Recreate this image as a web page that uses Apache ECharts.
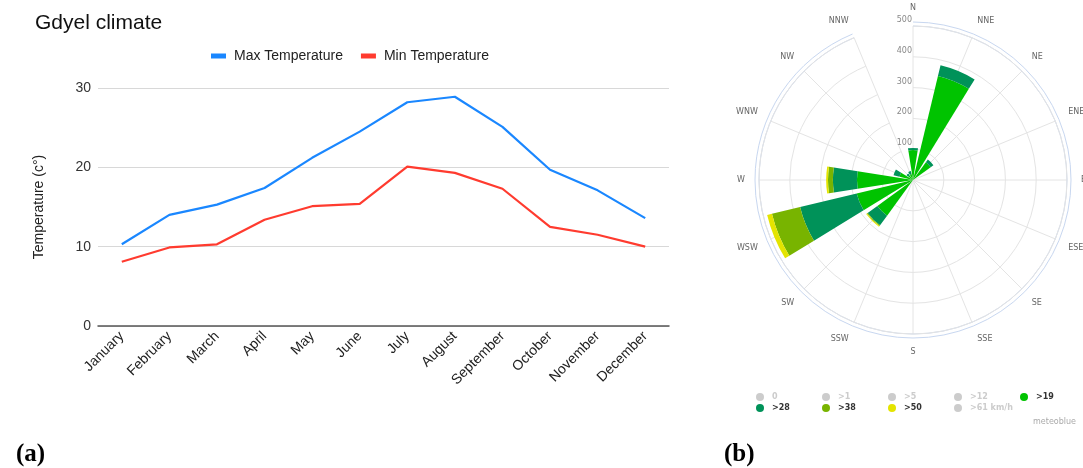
<!DOCTYPE html>
<html>
<head>
<meta charset="utf-8">
<title>Gdyel climate and wind rose</title>
<script src="https://cdn.jsdelivr.net/npm/echarts@6/dist/echarts.min.js"></script>
<style>
  html, body { margin: 0; padding: 0; background: #ffffff; }
  #chart { width: 1083px; height: 468px; }
</style>
</head>
<body>
<div id="chart"></div>
<script>
// Monthly temperatures (°C)
const months = ['January', 'February', 'March', 'April', 'May', 'June',
                'July', 'August', 'September', 'October', 'November', 'December'];
const maxTemp = [10.3, 14.0, 15.3, 17.4, 21.2, 24.5, 28.2, 28.9, 25.1, 19.7, 17.1, 13.6];
const minTemp = [8.1, 9.9, 10.3, 13.4, 15.1, 15.4, 20.1, 19.3, 17.3, 12.5, 11.5, 10.0];
const tempTicks = [0, 10, 20, 30];

// Wind rose: hours per direction, by wind-speed class (km/h)
const directions = ['N', 'NNE', 'NE', 'ENE', 'E', 'ESE', 'SE', 'SSE',
                    'S', 'SSW', 'SW', 'WSW', 'W', 'WNW', 'NW', 'NNW'];
const speedClasses = ['0', '>1', '>5', '>12', '>19', '>28', '>38', '>50', '>61 km/h'];
const speed0  = [];
const speed1  = [];
const speed5  = [];
const speed12 = [];
const speed19 = [97, 347, 71, 0, 0, 0, 0, 0, 0, 0, 143, 188, 182, 45, 18, 20];
const speed28 = [7, 36, 11, 0, 0, 0, 0, 0, 0, 0, 39, 189, 78, 20, 8, 10];
const speed38 = [0, 0, 0, 0, 0, 0, 0, 0, 0, 0, 3, 94, 16, 0, 0, 0];
const speed50 = [0, 0, 0, 0, 0, 0, 0, 0, 0, 0, 3, 16, 6, 0, 0, 0];
const speed61 = [];
const radiusTicks = [0, 100, 200, 300, 400, 500];

const speedData = [speed0, speed1, speed5, speed12, speed19, speed28, speed38, speed50, speed61];
const speedColors = ['#cccccc', '#cccccc', '#cccccc', '#cccccc', '#00c300',
                     '#009259', '#78b400', '#e4e400', '#cccccc'];
const hiddenClasses = { '0': false, '>1': false, '>5': false, '>12': false, '>61 km/h': false };

const sansFont = 'Liberation Sans, Arial, sans-serif';
const smallFont = 'DejaVu Sans, Verdana, sans-serif';

const chart = echarts.init(document.getElementById('chart'), null, { renderer: 'canvas' });

// wind-speed legend laid out as five columns of two rows
const legendColumns = [['0', '>28'], ['>1', '>38'], ['>5', '>50'], ['>12', '>61 km/h'], ['>19']];
const columnLeft = [756, 822, 888, 954, 1020];
const windLegends = legendColumns.map(function (names, i) {
  return {
    data: names,
    orient: 'vertical',
    left: columnLeft[i],
    top: 393,
    padding: 0,
    itemWidth: 8,
    itemHeight: 8,
    itemGap: 3,
    icon: 'circle',
    selected: hiddenClasses,
    selectedMode: false,
    inactiveColor: '#cccccc',
    textStyle: { fontFamily: smallFont, fontSize: 8, fontWeight: 'bold', color: '#333333', padding: [0, 0, 0, 3] }
  };
});

const windSeries = speedClasses.map(function (name, i) {
  return {
    name: name,
    type: 'bar',
    coordinateSystem: 'polar',
    polarIndex: 0,
    stack: 'speed',
    barCategoryGap: '20%',
    itemStyle: { color: speedColors[i] },
    data: speedData[i]
  };
});

const option = {
  animation: false,
  backgroundColor: '#ffffff',
  title: [
    { text: 'Gdyel climate', left: 30, top: 8,
      textStyle: { fontFamily: sansFont, fontSize: 21, fontWeight: 'normal', color: '#111111' } },
    { text: '(a)', left: 11, top: 437,
      textStyle: { fontFamily: 'Liberation Serif, DejaVu Serif, serif', fontSize: 25, fontWeight: 'bold', color: '#000000' } },
    { text: '(b)', left: 719, top: 437,
      textStyle: { fontFamily: 'Liberation Serif, DejaVu Serif, serif', fontSize: 25, fontWeight: 'bold', color: '#000000' } },
    { text: 'meteoblue', right: 2, top: 413,
      textStyle: { fontFamily: smallFont, fontSize: 8, fontWeight: 'normal', color: '#aaaaaa' } }
  ],
  legend: [
    {
      data: ['Max Temperature', 'Min Temperature'],
      left: 211,
      top: 49,
      padding: 0,
      icon: 'rect',
      itemWidth: 15,
      itemHeight: 5,
      itemGap: 18,
      selectedMode: false,
      textStyle: { fontFamily: sansFont, fontSize: 14, color: '#222222', padding: [0, 0, 0, 3] }
    }
  ].concat(windLegends),
  grid: { left: 98, right: 414, top: 88, bottom: 142, containLabel: false },
  xAxis: {
    type: 'category',
    data: months,
    boundaryGap: true,
    axisLine: { lineStyle: { color: '#555555', width: 1.5 } },
    axisTick: { show: false },
    axisLabel: { rotate: 45, fontFamily: sansFont, fontSize: 14, color: '#222222', margin: 8, interval: 0 }
  },
  yAxis: {
    type: 'value',
    min: tempTicks[0],
    max: tempTicks[tempTicks.length - 1],
    interval: tempTicks[1] - tempTicks[0],
    name: 'Temperature (c°)',
    nameLocation: 'middle',
    nameGap: 52,
    nameTextStyle: { fontFamily: sansFont, fontSize: 14, color: '#222222' },
    axisLine: { show: false },
    axisTick: { show: false },
    axisLabel: { fontFamily: sansFont, fontSize: 14, color: '#333333', margin: 7 },
    splitLine: { lineStyle: { color: '#d8d8d8', width: 1.2 } }
  },
  polar: [
    { center: [913, 180], radius: 154 },
    { center: [913, 180], radius: 158 }
  ],
  angleAxis: [
    {
      polarIndex: 0,
      type: 'category',
      data: directions,
      boundaryGap: false,
      startAngle: 90,
      clockwise: true,
      axisLine: { lineStyle: { color: '#c8d7f0', width: 1 } },
      axisTick: { show: false },
      axisLabel: { fontFamily: smallFont, fontSize: 8, color: '#666666', margin: 14 },
      splitLine: { show: true, lineStyle: { color: '#e4e4e4', width: 1 } }
    },
    {
      polarIndex: 1,
      type: 'category',
      data: directions,
      boundaryGap: false,
      startAngle: 90,
      axisLine: { lineStyle: { color: '#c8d7f0', width: 1 } },
      axisTick: { show: false },
      axisLabel: { show: false },
      splitLine: { show: false }
    }
  ],
  radiusAxis: [
    {
      polarIndex: 0,
      type: 'value',
      min: radiusTicks[0],
      max: radiusTicks[radiusTicks.length - 1],
      interval: radiusTicks[1] - radiusTicks[0],
      axisLine: { show: false },
      axisTick: { show: false },
      axisLabel: {
        showMinLabel: false,
        fontFamily: smallFont, fontSize: 8, color: '#888888',
        align: 'right', verticalAlign: 'bottom', margin: 1, padding: [0, 0, 2, 0]
      },
      splitLine: { show: true, lineStyle: { color: '#e4e4e4', width: 1 } },
      z: 1
    },
    {
      polarIndex: 1,
      type: 'value',
      min: 0,
      max: 1,
      axisLine: { show: false },
      axisTick: { show: false },
      axisLabel: { show: false },
      splitLine: { show: false }
    }
  ],
  series: [
    {
      name: 'Max Temperature',
      type: 'line',
      data: maxTemp,
      symbol: 'none',
      lineStyle: { color: '#1a87ff', width: 2.2 },
      itemStyle: { color: '#1a87ff' }
    },
    {
      name: 'Min Temperature',
      type: 'line',
      data: minTemp,
      symbol: 'none',
      lineStyle: { color: '#ff3b2f', width: 2.2 },
      itemStyle: { color: '#ff3b2f' }
    }
  ].concat(windSeries)
};

chart.setOption(option);
</script>
</body>
</html>
